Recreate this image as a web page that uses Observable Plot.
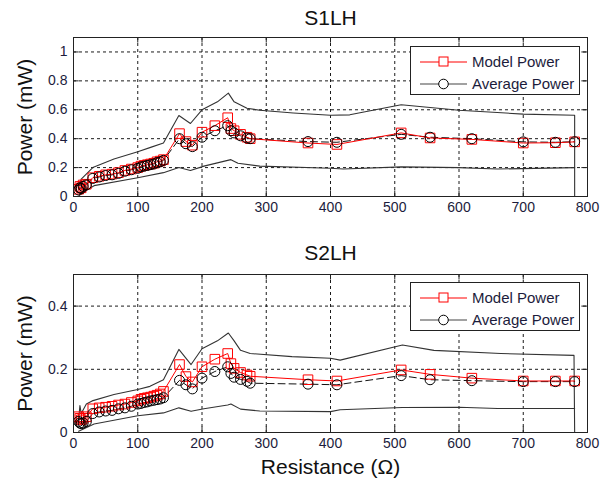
<!DOCTYPE html>
<html>
<head>
<meta charset="utf-8">
<script src="https://cdn.jsdelivr.net/npm/d3@7"></script>
<script src="https://cdn.jsdelivr.net/npm/@observablehq/plot@0.6"></script>
<style>
  html, body { margin: 0; padding: 0; background: #fff; }
  #wrap { position: relative; width: 613px; height: 482px; font-family: "Liberation Sans", Arial, sans-serif; }
  #wrap svg { display: block; }
  .legend { position: absolute; width: 170px; height: 49px; border: 1px solid #222; background: #fff; box-sizing: border-box; }
  .legend .row { position: absolute; left: 0; height: 22px; width: 100%; }
  .legend svg { position: absolute; left: 8px; top: 0; }
  .legend span { position: absolute; left: 61px; top: 2px; font-size: 15px; color: #1c1c3c; white-space: nowrap; }
</style>
</head>
<body>
<div id="wrap"></div>
<script>
// ---------- data ----------
const resistance = [8, 10, 12, 15, 20, 30, 40, 50, 60, 70, 80, 90, 100, 105, 110, 115, 120, 125, 130, 135, 140,
  165, 175, 185, 200, 220, 240, 245, 250, 260, 270, 275, 365, 410, 510, 555, 620, 700, 750, 780];

const s1Model = [0.05, 0.07, 0.06, 0.08, 0.085, 0.13, 0.14, 0.15, 0.155, 0.165, 0.18, 0.19, 0.2, 0.21, 0.215, 0.22, 0.225, 0.23, 0.24, 0.245, 0.255,
  0.435, 0.38, 0.355, 0.445, 0.49, 0.545, 0.47, 0.455, 0.43, 0.41, 0.4, 0.37, 0.36, 0.44, 0.405, 0.395, 0.37, 0.372, 0.378];
const s1Avg = [0.045, 0.06, 0.055, 0.07, 0.08, 0.125, 0.135, 0.145, 0.15, 0.16, 0.175, 0.185, 0.195, 0.205, 0.21, 0.215, 0.22, 0.225, 0.235, 0.24, 0.25,
  0.40, 0.365, 0.345, 0.41, 0.455, 0.49, 0.455, 0.44, 0.42, 0.405, 0.4, 0.38, 0.375, 0.43, 0.41, 0.40, 0.378, 0.375, 0.379];

const s1UpperR = [8, 12, 30, 63, 100, 120, 140, 164, 182, 200, 224, 241, 250, 270, 290, 342, 400, 430, 510, 600, 700, 780, 780];
const s1Upper  = [0.07, 0.12, 0.2, 0.26, 0.31, 0.34, 0.37, 0.56, 0.505, 0.6, 0.655, 0.715, 0.655, 0.61, 0.597, 0.578, 0.562, 0.565, 0.635, 0.597, 0.57, 0.562, 0];
const s1LowerR = [8, 11, 32, 100, 140, 164, 182, 203, 240, 245, 256, 290, 400, 420, 510, 600, 660, 780];
const s1Lower  = [0.0, 0.02, 0.075, 0.13, 0.165, 0.2, 0.18, 0.21, 0.25, 0.255, 0.23, 0.21, 0.195, 0.19, 0.205, 0.2, 0.19, 0.2];

const s2Model = [0.05, 0.045, 0.04, 0.045, 0.05, 0.075, 0.078, 0.08, 0.083, 0.087, 0.09, 0.095, 0.1, 0.105, 0.108, 0.11, 0.112, 0.115, 0.118, 0.122, 0.13,
  0.215, 0.177, 0.16, 0.208, 0.232, 0.25, 0.218, 0.203, 0.19, 0.182, 0.178, 0.167, 0.163, 0.198, 0.184, 0.172, 0.163, 0.163, 0.163];
const s2Avg = [0.035, 0.03, 0.028, 0.03, 0.035, 0.06, 0.065, 0.068, 0.07, 0.075, 0.078, 0.083, 0.09, 0.092, 0.095, 0.097, 0.1, 0.102, 0.104, 0.106, 0.11,
  0.165, 0.151, 0.138, 0.172, 0.193, 0.208, 0.187, 0.175, 0.168, 0.162, 0.156, 0.153, 0.151, 0.18, 0.167, 0.164, 0.161, 0.161, 0.161];

const s2UpperR = [8, 10, 12, 20, 29, 63, 100, 119, 140, 164, 183, 200, 224, 241, 250, 260, 275, 340, 400, 415, 512, 561, 665, 779, 780];
const s2Upper  = [0.04, 0.085, 0.06, 0.09, 0.1, 0.12, 0.136, 0.146, 0.167, 0.263, 0.215, 0.265, 0.29, 0.315, 0.29, 0.26, 0.25, 0.24, 0.235, 0.229, 0.277, 0.26, 0.25, 0.244, 0];
const s2LowerR = [8, 32, 100, 140, 164, 183, 203, 240, 245, 260, 290, 400, 415, 512, 600, 660, 780];
const s2Lower  = [0.004, 0.027, 0.053, 0.062, 0.078, 0.067, 0.075, 0.087, 0.09, 0.074, 0.068, 0.066, 0.072, 0.079, 0.08, 0.076, 0.076];

const xTicks = [0, 100, 200, 300, 400, 500, 600, 700, 800];
const s1YTicks = [0, 0.2, 0.4, 0.6, 0.8, 1];
const s2YTicks = [0, 0.2, 0.4];
const titles = ["S1LH", "S2LH"];
const yLabel = "Power (mW)";
const xLabel = "Resistance (\u03A9)";
const legendLabels = ["Model Power", "Average Power"];

// ---------- helpers ----------
const zip = (xs, ys) => xs.map((x, i) => ({x, y: ys[i]}));
const font = "'Liberation Sans', Arial, sans-serif";
const ink = "#1c1c3c";

function panel({title, yMax, yTicks, model, avg, upper, lower, marginTop, marginBottom, titleDy, showXLabel}) {
  const modelD = zip(resistance, model);
  const avgD = zip(resistance, avg);
  const xMax = 800;
  return Plot.plot({
    width: 613,
    height: 241,
    marginLeft: 73,
    marginRight: 26,
    marginTop,
    marginBottom,
    style: {fontFamily: font, fontSize: "14px", color: ink, background: "#fff", overflow: "visible"},
    x: {domain: [0, xMax], ticks: xTicks},
    y: {domain: [0, yMax], ticks: yTicks},
    marks: [
      Plot.gridX(xTicks.slice(1, -1), {stroke: "#000", strokeOpacity: 1, strokeWidth: 0.9, strokeDasharray: "3,3"}),
      Plot.gridY(yTicks.filter(t => t > 0), {stroke: "#000", strokeOpacity: 1, strokeWidth: 0.9, strokeDasharray: "3,3"}),
      // tick marks inside the frame
      Plot.ruleX(xTicks, {x: d => d, y1: 0, y2: yMax * 0.035, stroke: "#222"}),
      Plot.ruleX(xTicks, {x: d => d, y1: yMax, y2: yMax * 0.965, stroke: "#222"}),
      Plot.ruleY(yTicks, {y: d => d, x1: 0, x2: xMax * 0.011, stroke: "#222"}),
      Plot.ruleY(yTicks, {y: d => d, x1: xMax, x2: xMax * 0.989, stroke: "#222"}),
      Plot.line(upper, {x: "x", y: "y", stroke: "#333", strokeWidth: 1.1}),
      Plot.line(lower, {x: "x", y: "y", stroke: "#333", strokeWidth: 1.1}),
      Plot.line(avgD, {x: "x", y: "y", stroke: "#111", strokeWidth: 1, strokeDasharray: "7,4"}),
      Plot.line(modelD, {x: "x", y: "y", stroke: "#ff0000", strokeWidth: 1}),
      Plot.dot(modelD, {x: "x", y: "y", symbol: "square", r: 5.4, stroke: "#ff0000", strokeWidth: 1, fill: "none"}),
      Plot.dot(avgD, {x: "x", y: "y", symbol: "circle", r: 5, stroke: "#000", strokeWidth: 1, fill: "none"}),
      Plot.frame({stroke: "#222", strokeWidth: 1}),
      Plot.axisX(xTicks, {tickSize: 0, tickPadding: 6, tickFormat: d => String(d), fontSize: 14, label: null}),
      Plot.axisY(yTicks, {tickSize: 0, tickPadding: 6, tickFormat: d => String(d), fontSize: 14, label: null}),
      Plot.text([title], {frameAnchor: "top", lineAnchor: "middle", dy: titleDy, fontSize: 21, fill: "#111"}),
      Plot.text([yLabel], {frameAnchor: "left", rotate: -90, dx: -48, textAnchor: "middle", lineAnchor: "middle", fontSize: 21, fill: "#111"}),
      ...(showXLabel ? [Plot.text([xLabel], {frameAnchor: "bottom", lineAnchor: "middle", dy: 35, fontSize: 21, fill: "#111"})] : [])
    ]
  });
}

const wrap = document.getElementById("wrap");
wrap.append(panel({
  title: titles[0], yMax: 1.1, yTicks: s1YTicks, model: s1Model, avg: s1Avg,
  upper: zip(s1UpperR, s1Upper), lower: zip(s1LowerR, s1Lower),
  marginTop: 37, marginBottom: 45, titleDy: -19, showXLabel: false
}));
wrap.append(panel({
  title: titles[1], yMax: 0.5, yTicks: s2YTicks, model: s2Model, avg: s2Avg,
  upper: zip(s2UpperR, s2Upper), lower: zip(s2LowerR, s2Lower),
  marginTop: 33, marginBottom: 50, titleDy: -21, showXLabel: true
}));

// ---------- legends (overlay) ----------
function legend(top) {
  const box = document.createElement("div");
  box.className = "legend";
  box.style.left = "410px";
  box.style.top = top + "px";
  const specs = [
    {label: legendLabels[0], color: "#ff0000", shape: "square", y: 4},
    {label: legendLabels[1], color: "#444", shape: "circle", y: 26}
  ];
  for (const s of specs) {
    const row = document.createElement("div");
    row.className = "row";
    row.style.top = s.y + "px";
    const ns = "http://www.w3.org/2000/svg";
    const svg = document.createElementNS(ns, "svg");
    svg.setAttribute("width", 50);
    svg.setAttribute("height", 22);
    const ln = document.createElementNS(ns, "line");
    ln.setAttribute("x1", 1); ln.setAttribute("x2", 48);
    ln.setAttribute("y1", 11); ln.setAttribute("y2", 11);
    ln.setAttribute("stroke", s.color); ln.setAttribute("stroke-width", 1.2);
    svg.append(ln);
    let m;
    if (s.shape === "square") {
      m = document.createElementNS(ns, "rect");
      m.setAttribute("x", 20); m.setAttribute("y", 6); m.setAttribute("width", 9); m.setAttribute("height", 9);
    } else {
      m = document.createElementNS(ns, "circle");
      m.setAttribute("cx", 24.5); m.setAttribute("cy", 11); m.setAttribute("r", 4.8);
      s.color = "#000";
    }
    m.setAttribute("fill", "#fff"); m.setAttribute("stroke", s.color); m.setAttribute("stroke-width", 1);
    svg.append(m);
    const t = document.createElement("span");
    t.textContent = s.label;
    row.append(svg, t);
    box.append(row);
  }
  wrap.append(box);
}
legend(46);
legend(282);
</script>
</body>
</html>
